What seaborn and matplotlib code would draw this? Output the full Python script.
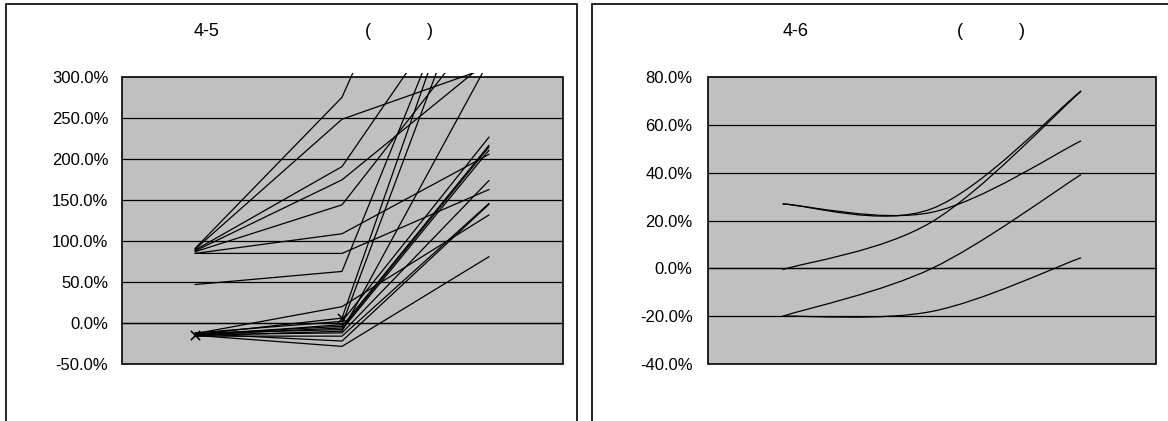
import matplotlib
matplotlib.use('Agg')
import matplotlib.pyplot as plt
import numpy as np
import pandas as pd
import seaborn as sns
from matplotlib.patches import Rectangle, PathPatch
from matplotlib.path import Path
from matplotlib.transforms import Bbox, TransformedBbox

# Fig 4-5: values (%) at the three category positions, one entry per series
fig45_start = [91, 90, 89, 88, 87, 85, 85, 47,
               -13, -14, -12, -15, -13.5, -14.5, -12.5, -15.5, -14, -16, -13, -15]
fig45_mid = [275.6, 248.8, 191, 174.8, 144.3, 109, 85, 63,
             20, 6, 2, -2, -4, -6, -8, -10, -12, -16, -22, -28.5]
fig45_end = [680, 312, 452, 321, 374, 206, 163, 507,
             132, 518, 227, 477, 217, 215, 211, 320, 174, 146, 145, 81]
fig45_marked = 9  # series drawn with x markers

# Fig 4-6: smoothed lines
fig46_start = [27, 27, -0.5, -20, -20]
fig46_mid = [25, 23.5, 19.5, 0, -18]
fig46_end = [74.3, 53.4, 74.2, 39.3, 4.5]

fig45_ticks = [-50, 0, 50, 100, 150, 200, 250, 300]
fig46_ticks = [-40, -20, 0, 20, 40, 60, 80]

sns.set_style('white')
plt.rcParams['font.family'] = ['Liberation Sans', 'DejaVu Sans']

W, H = 1168, 421
fig = plt.figure(figsize=(W / 100, H / 100), dpi=100)


def px_box(l, t, r, b):
    return [l / W, 1 - b / H, (r - l) / W, (b - t) / H]


# chart area borders (cut off at the bottom / right like the reference)
fig.add_artist(Rectangle((6.3 / W, -0.05), (576.7 - 6.3) / W, 1 - 4.3 / H + 0.05,
                         transform=fig.transFigure, fill=False, ec='black', lw=1.2))
fig.add_artist(Rectangle((592 / W, -0.05), 0.5, 1 - 4.3 / H + 0.05,
                         transform=fig.transFigure, fill=False, ec='black', lw=1.2))

ax1 = fig.add_axes(px_box(121.5, 77.3, 562.5, 364))
ax2 = fig.add_axes(px_box(708, 77.3, 1155.7, 364))


def style_axes(ax, ticks, pad):
    ax.set_facecolor('#C0C0C0')
    ax.set_xlim(-0.5, 2.5)
    ax.set_ylim(ticks[0], ticks[-1])
    ax.set_yticks(ticks)
    ax.set_yticklabels([f'{v:.1f}%' for v in ticks])
    for v in ticks[1:-1]:
        ax.axhline(v, color='black', lw=0.9, zorder=1)
    for s in ['top', 'left', 'right']:
        ax.spines[s].set_visible(False)
    ax.spines['bottom'].set_position(('data', 0))
    ax.spines['bottom'].set_color('black')
    ax.spines['bottom'].set_linewidth(0.9)
    ax.add_patch(Rectangle((0, 0), 1, 1, transform=ax.transAxes, fill=False,
                           ec='black', lw=1.2, zorder=6, clip_on=False))
    ax.set_xticks([-0.5, 0.5, 1.5, 2.5])
    ax.tick_params(axis='x', direction='in', length=4, width=0.9, color='black',
                   labelbottom=False)
    ax.tick_params(axis='y', length=0, pad=pad, labelsize=12, labelcolor='black')
    ax.set_xlabel('')
    ax.set_ylabel('')


# Fig 4-5 (straight lines)
rows = []
for i, vals in enumerate(zip(fig45_start, fig45_mid, fig45_end)):
    for x, v in enumerate(vals):
        rows.append({'series': i, 'x': x, 'value': v})
df45 = pd.DataFrame(rows)

sns.lineplot(data=df45, x='x', y='value', units='series', estimator=None,
             color='black', lw=0.9, ax=ax1, zorder=3)
marked = df45[df45['series'] == fig45_marked]
sns.scatterplot(data=marked, x='x', y='value', marker='x', s=45, color='black',
                linewidth=1.1, ax=ax1, zorder=4)
# lines poke a few pixels above the plot area, as in the source
clip = TransformedBbox(Bbox([[0, 0], [1, 1.014]]), ax1.transAxes)
for ln in ax1.lines:
    ln.set_clip_box(clip)
style_axes(ax1, fig45_ticks, 9.5)

# Fig 4-6 (smoothed lines, Bezier through the three points)
for p0, p1, p2 in zip(fig46_start, fig46_mid, fig46_end):
    pts = np.array([[0, p0], [1, p1], [2, p2]], dtype=float)
    ext = np.vstack([pts[0], pts, pts[-1]])
    verts = [tuple(pts[0])]
    codes = [Path.MOVETO]
    for k in range(2):
        a, b, c, d = ext[k], ext[k + 1], ext[k + 2], ext[k + 3]
        verts += [tuple(b + (c - a) / 6), tuple(c - (d - b) / 6), tuple(c)]
        codes += [Path.CURVE4] * 3
    ax2.add_patch(PathPatch(Path(verts, codes), fc='none', ec='black', lw=0.9, zorder=3))
style_axes(ax2, fig46_ticks, 11)

# titles (the gaps are glyphs the source could not render)
ty = 1 - 31 / H
for x, s in [(193.3, '4-5'), (365, '('), (426.7, ')'),
             (782.5, '4-6'), (956.8, '('), (1018.7, ')')]:
    fig.text(x / W, ty, s, ha='left', va='center', fontsize=13, color='black')

fig.savefig('out.png', dpi=100)
